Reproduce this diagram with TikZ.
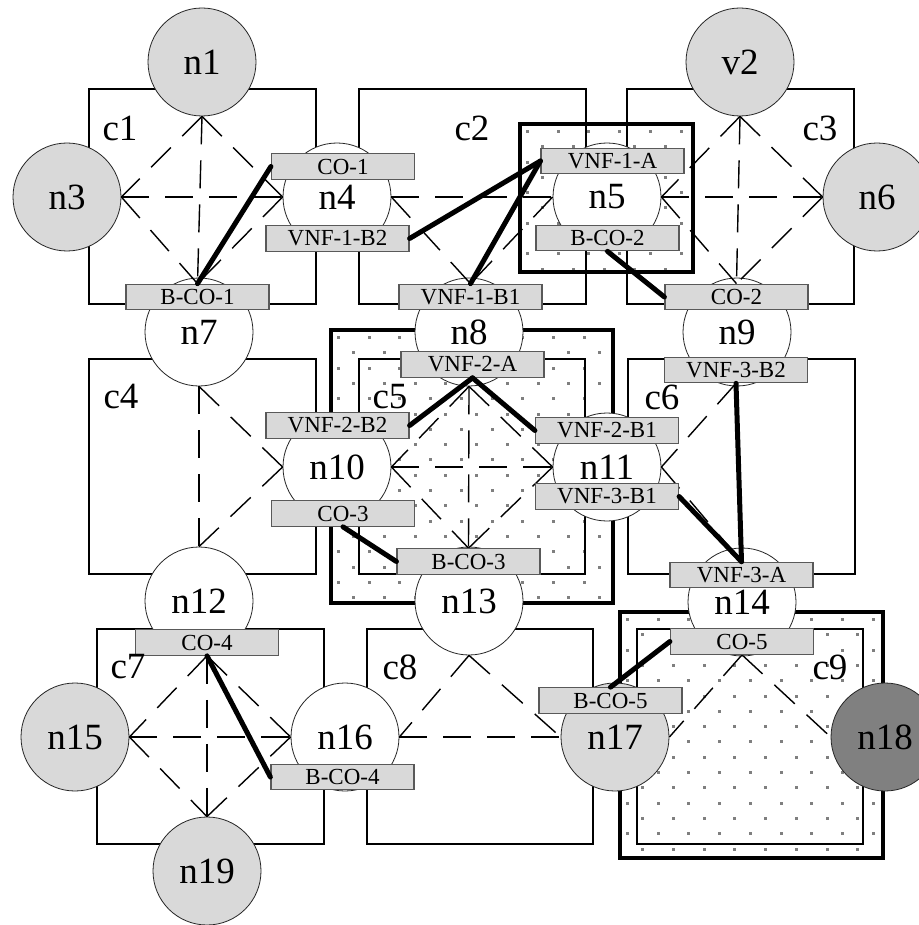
\documentclass[tikz,border=0pt]{standalone}
\usepackage{fontspec}
\setmainfont{Liberation Serif}
\usepackage{xcolor}
\usepackage{tikz}
\usetikzlibrary{positioning, calc}
\pgfdeclarelayer{back}
\pgfdeclarelayer{mid}
\pgfsetlayers{back,mid,main}
\definecolor{lightfill}{HTML}{D9D9D9}
\definecolor{darkfill}{HTML}{808080}
\definecolor{tagedge}{HTML}{595959}
\definecolor{dotgray}{HTML}{7F7F7F}

\newcommand{\dotarea}[4]{%
  \begin{scope}
    \clip (#1,#2) rectangle (#3,#4);
    \foreach \j in {0,...,20}{
      \pgfmathsetmacro{\dotoff}{mod(\j,2)*15.35}
      \foreach \i in {0,...,10}
        \fill[dotgray] ({#1+6+\dotoff+30.7*\i},{#2+6+15.3*\j}) rectangle ++(3,3);
    }
  \end{scope}}

\begin{document}
\begin{tikzpicture}[
    x=1pt, y=-1pt,
    host/.style={draw=black!85, line width=0.8pt, circle, fill=white, minimum size=108pt, inner sep=0pt, font=\fontsize{37}{37}\selectfont},
    endpoint/.style={host, fill=lightfill},
    gateway/.style={host, fill=darkfill},
    tagbox/.style={draw=tagedge, line width=1.2pt, fill=lightfill, minimum width=143pt, minimum height=25.5pt, inner sep=0pt, font=\fontsize{23}{23}\selectfont},
    cluster/.style={draw, line width=2pt},
    hot/.style={draw, line width=3.6pt},
    link/.style={dash pattern=on 28pt off 16pt, line width=1.4pt},
    vnflink/.style={line width=5pt, line cap=round},
    clabel/.style={inner sep=0pt, font=\fontsize{37}{37}\selectfont}
  ]
  \useasboundingbox (0,0) rectangle (918,925);

  \begin{pgfonlayer}{back}
    \fill[white] (0,0) rectangle (918,925);
    \dotarea{520}{124}{693}{272}
    \dotarea{331}{330}{613}{603}
    \dotarea{620}{612}{883}{858}
    \draw[hot] (520,124) rectangle (693,272);
    \draw[hot] (331,330) rectangle (613,603);
    \draw[hot] (620,612) rectangle (883,858);

    \draw[cluster] (89,89) rectangle (316,304);
    \draw[cluster] (359,89) rectangle (586,304);
    \draw[cluster] (627,89) rectangle (854,304);
    \draw[cluster] (89,359) rectangle (316,574);
    \draw[cluster] (359,359) rectangle (585,574);
    \draw[cluster] (628,359) rectangle (855,574);
    \draw[cluster] (97,629) rectangle (324,844);
    \draw[cluster] (367,629) rectangle (593,844);
    \draw[cluster] (637,629) rectangle (863,844);

    \node[endpoint] (n1) at (202,62) {n1};
    \node[endpoint] (v2) at (740,62) {v2};
    \node[endpoint] (n3) at (67,197) {n3};
    \node[host] (n4) at (337,197) {n4};
    \node[host] (n5) at (607,197) {n5};
    \node[endpoint] (n6) at (877,197) {n6};
    \node[host] (n7) at (199,332) {n7};
    \node[host] (n8) at (469,332) {n8};
    \node[host] (n9) at (737,332) {n9};
    \node[host] (n10) at (337,467) {n10};
    \node[host] (n11) at (607,467) {n11};
    \node[host] (n12) at (199,601) {n12};
    \node[host] (n13) at (469,601) {n13};
    \node[host] (n14) at (742,602) {n14};
    \node[endpoint] (n15) at (75,737) {n15};
    \node[host] (n16) at (345,737) {n16};
    \node[endpoint] (n17) at (615,737) {n17};
    \node[gateway] (n18) at (885,737) {n18};
    \node[endpoint] (n19) at (207,871) {n19};
  \end{pgfonlayer}

  \node[tagbox] (co1) at (343,166.5) {CO-1};
  \node[tagbox] (vnf1b2) at (337.5,238.5) {VNF-1-B2};
  \node[tagbox] (bco1) at (197.5,297) {B-CO-1};
  \node[tagbox] (vnf1b1) at (470.5,297) {VNF-1-B1};
  \node[tagbox] (vnf1a) at (612.5,161) {VNF-1-A};
  \node[tagbox] (bco2) at (607.5,238) {B-CO-2};
  \node[tagbox] (co2) at (736.5,297) {CO-2};
  \node[tagbox] (vnf2a) at (472.5,364.5) {VNF-2-A};
  \node[tagbox] (vnf2b2) at (337.5,425.5) {VNF-2-B2};
  \node[tagbox] (vnf2b1) at (607,430.5) {VNF-2-B1};
  \node[tagbox] (co3) at (343,513.5) {CO-3};
  \node[tagbox] (vnf3b1) at (607,496.5) {VNF-3-B1};
  \node[tagbox] (bco3) at (468.5,561.5) {B-CO-3};
  \node[tagbox] (vnf3b2) at (736,370) {VNF-3-B2};
  \node[tagbox] (vnf3a) at (741.5,575) {VNF-3-A};
  \node[tagbox] (co4) at (207,642.5) {CO-4};
  \node[tagbox] (bco4) at (342.5,777) {B-CO-4};
  \node[tagbox] (co5) at (742,641.5) {CO-5};
  \node[tagbox] (bco5) at (610.5,700.5) {B-CO-5};

  \begin{pgfonlayer}{mid}
    \draw[link] (n1.south) -- (n3.east);
    \draw[link] (n1.south) -- (n4.west);
    \draw[link] (n1.south) -- (bco1.north);
    \draw[link] (n3.east) -- (n4.west);
    \draw[link] (n3.east) -- (bco1.north);
    \draw[link] (n4.west) -- (bco1.north);

    \draw[link] (n4.east) -- (n5.west);
    \draw[link] (n4.east) -- (vnf1b1.north);
    \draw[link] (n5.west) -- (vnf1b1.north);

    \draw[link] (v2.south) -- (n5.east);
    \draw[link] (v2.south) -- (n6.west);
    \draw[link] (v2.south) -- (co2.north);
    \draw[link] (n5.east) -- (n6.west);
    \draw[link] (n5.east) -- (co2.north);
    \draw[link] (n6.west) -- (co2.north);

    \draw[link] (n7.south) -- (n10.west);
    \draw[link] (n7.south) -- (n12.north);
    \draw[link] (n10.west) -- (n12.north);

    \draw[link] (n8.south) -- (n10.east);
    \draw[link] (n8.south) -- (n11.west);
    \draw[link] (n8.south) -- (bco3.north);
    \draw[link] (n10.east) -- (n11.west);
    \draw[link] (n10.east) -- (bco3.north);
    \draw[link] (n11.west) -- (bco3.north);

    \draw[link] (vnf3b2.south) -- (n11.east);
    \draw[link] (n11.east) -- (vnf3a.north);

    \draw[link] (co4.south) -- (n15.east);
    \draw[link] (co4.south) -- (n16.west);
    \draw[link] (co4.south) -- (n19.north);
    \draw[link] (n15.east) -- (n16.west);
    \draw[link] (n15.east) -- (n19.north);
    \draw[link] (n16.west) -- (n19.north);

    \draw[link] (n13.south) -- (n16.east);
    \draw[link] (n13.south) -- (n17.west);
    \draw[link] (n16.east) -- (n17.west);

    \draw[link] (co5.south) -- (n17.east);
    \draw[link] (co5.south) -- (n18.west);
  \end{pgfonlayer}

  \draw[vnflink] (co1.west) -- (bco1.north);
  \draw[vnflink] (vnf1b2.east) -- (vnf1a.west);
  \draw[vnflink] (vnf1b1.north) -- (vnf1a.west);
  \draw[vnflink] (bco2.south) -- (co2.west);
  \draw[vnflink] (vnf2a.south) -- (vnf2b2.east);
  \draw[vnflink] (vnf2a.south) -- (vnf2b1.west);
  \draw[vnflink] (co3.south) -- (bco3.west);
  \draw[vnflink] (vnf3b2.south) -- (vnf3a.north);
  \draw[vnflink] (vnf3b1.east) -- (vnf3a.north);
  \draw[vnflink] (co4.south) -- (bco4.west);
  \draw[vnflink] (co5.west) -- (bco5.north);

  \node[clabel] (c1) at (120,128) {c1};
  \node[clabel] (c2) at (472,128) {c2};
  \node[clabel] (c3) at (820,128) {c3};
  \node[clabel] (c4) at (121,397) {c4};
  \node[clabel] (c5) at (390,397) {c5};
  \node[clabel] (c6) at (662,397) {c6};
  \node[clabel] (c7) at (128,667) {c7};
  \node[clabel] (c8) at (400,667) {c8};
  \node[clabel] (c9) at (830,667) {c9};
\end{tikzpicture}
\end{document}
